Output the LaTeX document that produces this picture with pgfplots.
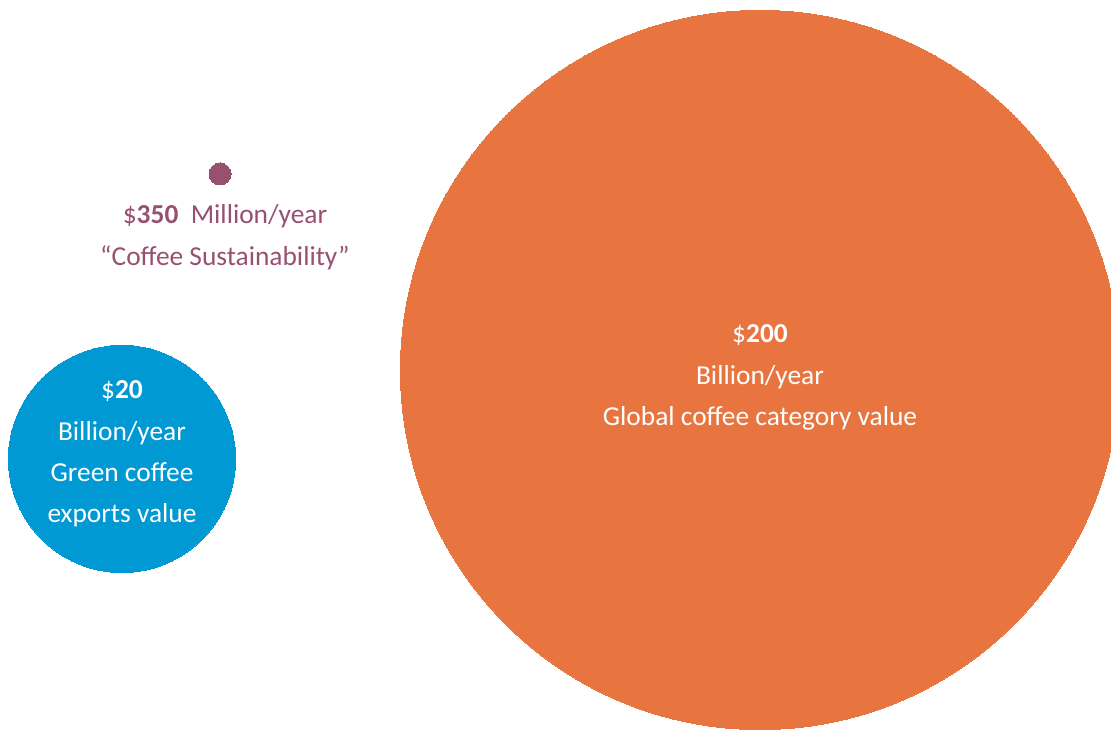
\documentclass[border=0pt]{standalone}
\usepackage{pgfplots}
\pgfplotsset{compat=1.18}
\usepackage{fontspec}
\setmainfont{Carlito}
\definecolor{cOrange}{HTML}{E87540}
\definecolor{cBlue}{HTML}{0099D3}
\definecolor{cPurple}{HTML}{98506F}
\tikzset{lbl/.style={anchor=base, inner sep=0pt, font=\fontsize{13.7}{16}\selectfont}}
\begin{document}
\begin{tikzpicture}
\begin{axis}[
  width=555.5pt, height=365.5pt, scale only axis,
  xmin=0, xmax=1111, ymin=0, ymax=731, y dir=reverse,
  hide axis, clip=true, clip marker paths=true,
]
% bubbles: value (billion USD/year) -> radius in px
\addplot[only marks, mark=*, mark size=179.8pt, color=cOrange, mark options={fill=cOrange, draw=cOrange, line width=0pt}] coordinates {(760,370)};
\addplot[only marks, mark=*, mark size=56.8pt, color=cBlue, mark options={fill=cBlue, draw=cBlue, line width=0pt}] coordinates {(122,459)};
\addplot[only marks, mark=*, mark size=5.5pt, color=cPurple, mark options={fill=cPurple, draw=cPurple, line width=0pt}] coordinates {(220,174)};

\node[lbl, text=cPurple] at (axis cs:225,224) {\$\textbf{350}\ \ Million/year};
\node[lbl, text=cPurple] at (axis cs:225,266) {“Coffee Sustainability”};

\node[lbl, text=white] at (axis cs:122,398) {\$\textbf{20}};
\node[lbl, text=white] at (axis cs:122,440) {Billion/year};
\node[lbl, text=white] at (axis cs:122,481) {Green coffee};
\node[lbl, text=white] at (axis cs:122,522) {exports value};

\node[lbl, text=white] at (axis cs:760,343) {\$\textbf{200}};
\node[lbl, text=white] at (axis cs:760,385) {Billion/year};
\node[lbl, text=white] at (axis cs:760,425) {Global coffee category value};
\end{axis}
\pgfresetboundingbox
\path[use as bounding box] (current axis.south west) rectangle (current axis.north east);
\end{tikzpicture}
\end{document}
